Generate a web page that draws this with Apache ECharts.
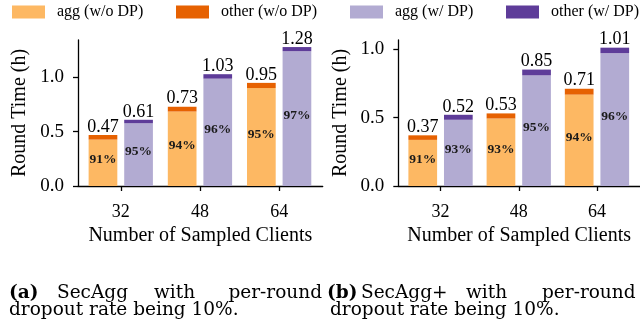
<!DOCTYPE html>
<html><head><meta charset="utf-8">
<script src="https://cdn.jsdelivr.net/npm/echarts@6/dist/echarts.min.js"></script>
<style>html,body{margin:0;padding:0;background:#fff}#c{width:640px;height:320px}</style>
</head><body><div id="c"></div>
<script>
// ---- data ----
const categories = ['32', '48', '64'];
const seriesNames = ['agg (w/o DP)', 'other (w/o DP)', 'agg (w/ DP)', 'other (w/ DP)'];
// Panel (a) SecAgg
const aTotalNoDP = [0.47, 0.73, 0.95];
const aPctNoDP   = [91, 94, 95];
const aTotalDP   = [0.61, 1.03, 1.28];
const aPctDP     = [95, 96, 97];
// Panel (b) SecAgg+
const bTotalNoDP = [0.37, 0.53, 0.71];
const bPctNoDP   = [91, 93, 94];
const bTotalDP   = [0.52, 0.85, 1.01];
const bPctDP     = [93, 95, 96];
const yTicks = [0, 0.5, 1.0];

// ---- style ----
const FONT = 'Liberation Serif';
const CAP_FONT = 'DejaVu Serif';
const colors = ['#fdb863', '#e66101', '#b2abd2', '#5e3c99'];
const xIdx = categories.map((c, i) => i);

function pair(idx, totals, pcts, key, aggColor, otherColor, aggName, otherName) {
  const agg = totals.map((t, i) => t * pcts[i] / 100);
  const other = totals.map((t, i) => t - agg[i]);
  return [
    {
      name: aggName, type: 'bar', xAxisIndex: idx, yAxisIndex: idx, stack: key,
      barWidth: 28.7, barGap: '24%',
      itemStyle: { color: aggColor },
      encode: { x: 1, y: 0 },
      data: agg.map((v, i) => [v, i]),
      label: {
        show: true, position: 'inside', offset: [0, -3],
        formatter: p => pcts[p.dataIndex] + '%',
        fontFamily: FONT, fontWeight: 'bold', fontSize: 13.5, color: '#1a1a1a'
      }
    },
    {
      name: otherName, type: 'bar', xAxisIndex: idx, yAxisIndex: idx, stack: key,
      barWidth: 28.7, barGap: '24%',
      itemStyle: { color: otherColor },
      encode: { x: 1, y: 0 },
      data: other.map((v, i) => [v, i]),
      label: {
        show: true, position: 'top', distance: -1,
        formatter: p => totals[p.dataIndex].toFixed(2),
        fontFamily: FONT, fontSize: 18, color: '#000'
      }
    }
  ];
}

function xAxis(idx) {
  return {
    type: 'value', gridIndex: idx, min: -0.54, max: 2.55,
    splitLine: { show: false },
    axisLine: { show: true, onZero: false, lineStyle: { color: '#000', width: 1.3 } },
    axisTick: { show: true, customValues: xIdx, length: 5, lineStyle: { color: '#000', width: 1.3 } },
    axisLabel: { customValues: xIdx, formatter: v => categories[Math.round(v)], fontFamily: FONT, fontSize: 18, color: '#000', margin: 17 },
    name: 'Number of Sampled Clients', nameLocation: 'middle', nameGap: 40,
    nameTextStyle: { fontFamily: FONT, fontSize: 20, color: '#000' }
  };
}
function yAxis(idx, max) {
  return {
    type: 'value', gridIndex: idx, min: 0, max: max,
    splitLine: { show: false },
    axisLine: { show: true, onZero: false, lineStyle: { color: '#000', width: 1.3 } },
    axisTick: { show: true, customValues: yTicks, length: 5, lineStyle: { color: '#000', width: 1.3 } },
    axisLabel: { customValues: yTicks, formatter: v => v.toFixed(1), fontFamily: FONT, fontSize: 19, color: '#000', margin: 14 },
    name: 'Round Time (h)', nameLocation: 'middle', nameGap: 48,
    nameTextStyle: { fontFamily: FONT, fontSize: 20, color: '#000' }
  };
}
function legend(name, left) {
  return {
    data: [name], left: left, top: 4, padding: 0,
    icon: 'rect', itemWidth: 33, itemHeight: 13,
    textStyle: { fontFamily: FONT, fontSize: 16, color: '#000', padding: [0, 0, 0, 7] }
  };
}
function cap(text, x, y, opts) {
  return { type: 'text', x: x, y: y, style: Object.assign({ text: text, fontFamily: CAP_FONT, fontSize: 18.5, fill: '#000', verticalAlign: 'middle' }, opts || {}) };
}

const chart = echarts.init(document.getElementById('c'), null, { renderer: 'canvas' });
chart.setOption({
  animation: false,
  backgroundColor: '#fff',
  textStyle: { fontFamily: FONT },
  legend: [
    legend(seriesNames[0], 12),
    legend(seriesNames[1], 176),
    legend(seriesNames[2], 350),
    legend(seriesNames[3], 506)
  ],
  grid: [
    { left: 78, top: 40, width: 244.7, height: 146 },
    { left: 398.3, top: 40, width: 244.7, height: 146 }
  ],
  xAxis: [xAxis(0), xAxis(1)],
  yAxis: [yAxis(0, 1.345), yAxis(1, 1.066)],
  series: [].concat(
    pair(0, aTotalNoDP, aPctNoDP, 'a0', colors[0], colors[1], seriesNames[0], seriesNames[1]),
    pair(0, aTotalDP, aPctDP, 'a1', colors[2], colors[3], seriesNames[2], seriesNames[3]),
    pair(1, bTotalNoDP, bPctNoDP, 'b0', colors[0], colors[1], seriesNames[0], seriesNames[1]),
    pair(1, bTotalDP, bPctDP, 'b1', colors[2], colors[3], seriesNames[2], seriesNames[3])
  ),
  graphic: [
    cap('(a)', 9, 293, { fontWeight: 'bold' }),
    cap('SecAgg', 57, 293),
    cap('with', 154, 293),
    cap('per-round', 322, 293, { align: 'right' }),
    cap('dropout rate being 10%.', 9, 310),
    cap('(b)', 327, 293, { fontWeight: 'bold' }),
    cap('SecAgg+', 361, 293),
    cap('with', 466, 293),
    cap('per-round', 542, 293),
    cap('dropout rate being 10%.', 330, 310)
  ]
});
</script>
</body></html>
